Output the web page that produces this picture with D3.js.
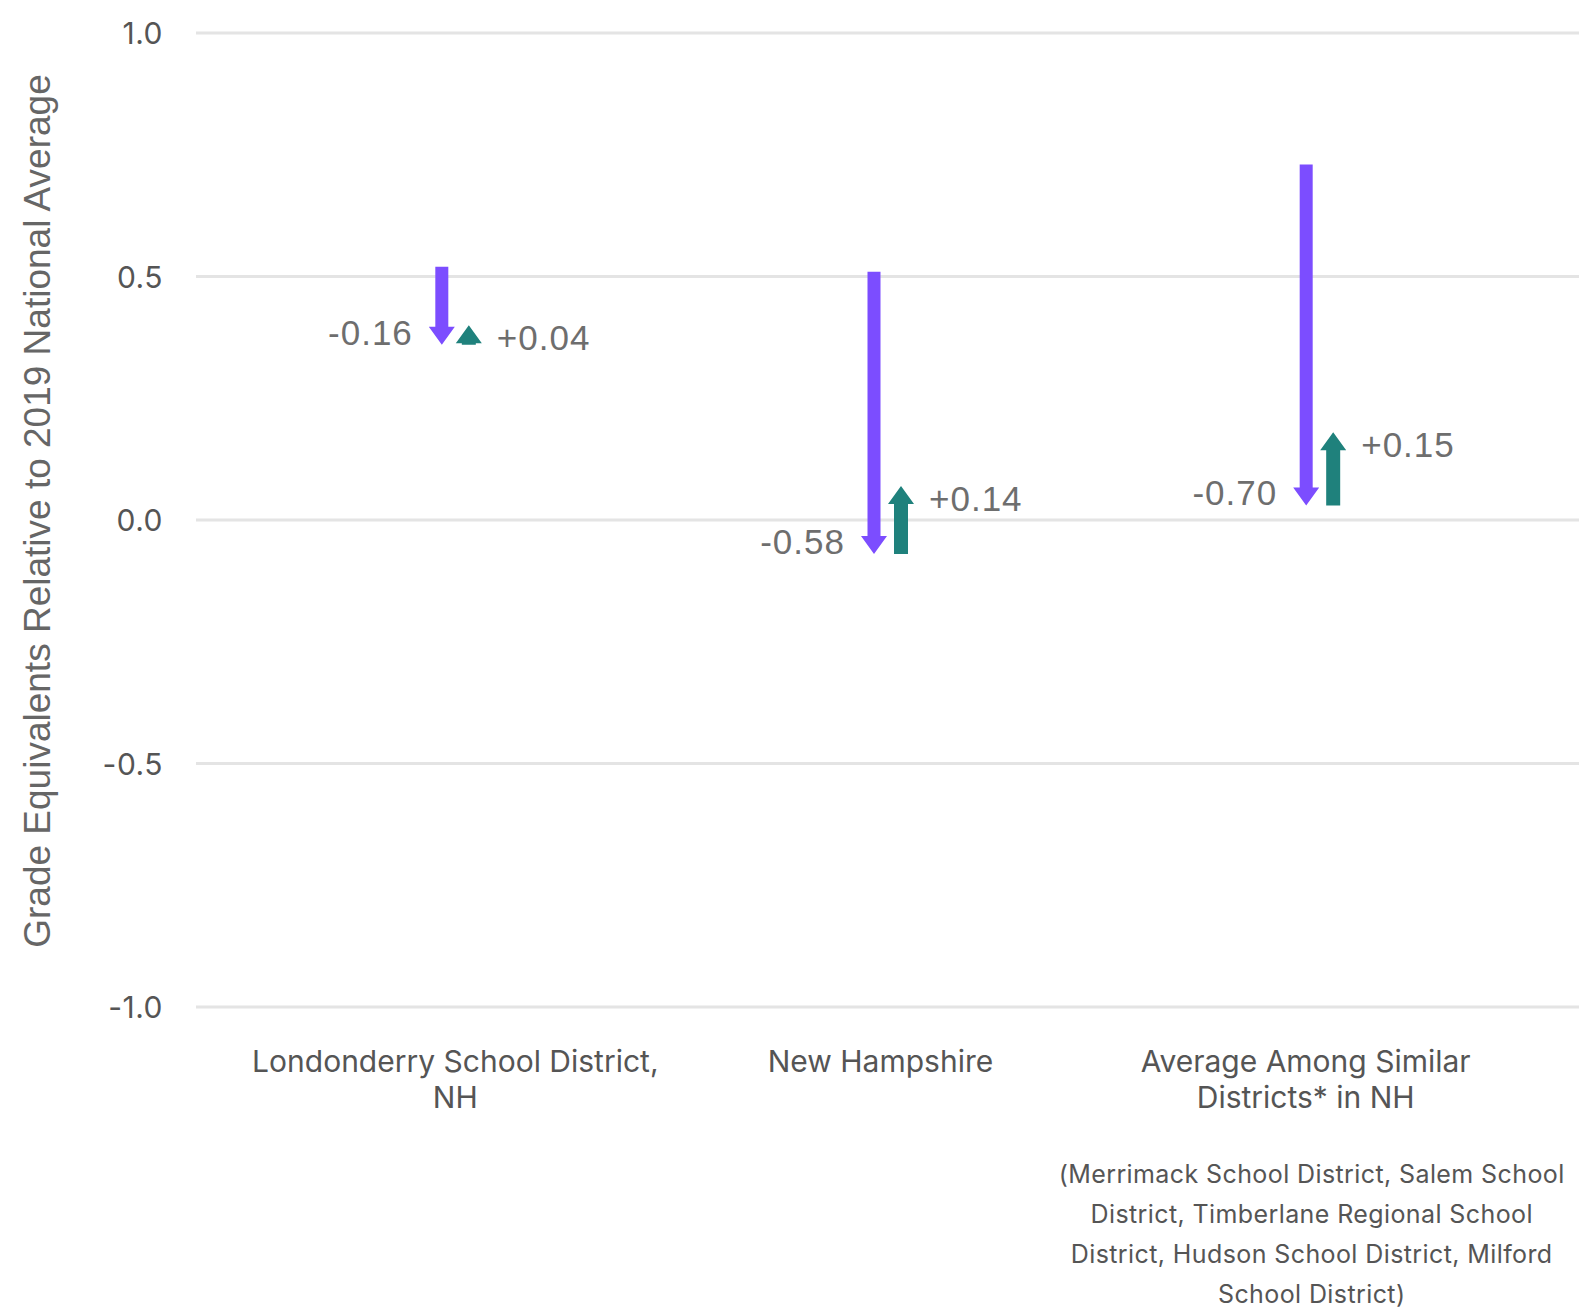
<!DOCTYPE html>
<html>
<head>
<meta charset="utf-8">
<script src="https://cdn.jsdelivr.net/npm/d3@7"></script>
<style>
  html, body { margin: 0; padding: 0; background: #fff; overflow: hidden; }
  svg { display: block; }
</style>
</head>
<body>
<div id="chart"></div>
<script>
// data
var categories = ["Londonderry School District, NH", "New Hampshire", "Average Among Similar Districts* in NH"];
var catLines = [["Londonderry School District,", "NH"], ["New Hampshire"], ["Average Among Similar", "Districts* in NH"]];
var startValues = [0.52, 0.51, 0.73];
var declines = [-0.16, -0.58, -0.70];
var recoveries = [0.04, 0.14, 0.15];
var yTicks = [1.0, 0.5, 0.0, -0.5, -1.0];
var yTickLabels = ["1.0", "0.5", "0.0", "-0.5", "-1.0"];
var footnote = ["(Merrimack School District, Salem School", "District, Timberlane Regional School", "District, Hudson School District, Milford", "School District)"];

var svgWidth = 1586;
var svgHeight = 1312;

var purple = "#7c4dff";
var teal = "#1f817c";

var svg = d3.select("#chart")
  .append("svg")
  .attr("width", svgWidth)
  .attr("height", svgHeight);

var x = d3.scalePoint()
  .domain(categories)
  .range([196, 1579])
  .padding(0.6);

var y = d3.scaleLinear()
  .domain([-1, 1])
  .range([1007, 33]);

// gridlines
svg.append("g")
  .selectAll("line")
  .data(yTicks)
  .enter()
  .append("line")
  .attr("x1", 196)
  .attr("x2", 1579)
  .attr("y1", d => y(d))
  .attr("y2", d => y(d))
  .attr("stroke", "#e4e4e4")
  .attr("stroke-width", 3);

// y axis
var leftAxis = d3.axisLeft(y)
  .tickValues(yTicks)
  .tickFormat((d, i) => yTickLabels[i])
  .tickSize(0)
  .tickPadding(0);

var yAxis = svg.append("g")
  .attr("transform", "translate(163, 0)")
  .call(leftAxis);
yAxis.select(".domain").remove();
yAxis.selectAll("text")
  .attr("font-family", "Inter, 'Noto Sans', sans-serif")
  .attr("font-size", "30px")
  .attr("letter-spacing", "0.5px")
  .attr("fill", "#555")
  .attr("dy", "0.36em");

svg.append("text")
  .attr("transform", "translate(50, 511) rotate(-90)")
  .attr("text-anchor", "middle")
  .attr("font-family", "'Liberation Sans', Arial, sans-serif")
  .attr("font-size", "37px")
  .attr("fill", "#666")
  .text("Grade Equivalents Relative to 2019 National Average");

// arrow shape: vertical arrow from y0 to y1
function arrowPath(cx, y0, y1, shaftW, headW, headL) {
  var dir = y1 > y0 ? 1 : -1;
  var len = Math.abs(y1 - y0);
  var hl = Math.min(headL, len);
  var yb = y1 - dir * hl;
  var p = [];
  if (len > hl) {
    p.push([cx - shaftW / 2, y0], [cx + shaftW / 2, y0], [cx + shaftW / 2, yb]);
  } else {
    p.push([cx, y0], [cx, yb]);
  }
  p.push([cx + headW / 2, yb], [cx, y1], [cx - headW / 2, yb]);
  if (len > hl) p.push([cx - shaftW / 2, yb]);
  return "M" + p.map(d => d.join(",")).join("L") + "Z";
}

var rows = categories.map(function(c, i) {
  return {
    cat: c,
    start: startValues[i],
    low: startValues[i] + declines[i],
    end: startValues[i] + declines[i] + recoveries[i],
    decline: declines[i],
    recovery: recoveries[i]
  };
});

var fmt = d3.format(".2f");
var marks = svg.append("g");

marks.selectAll(".drop")
  .data(rows)
  .enter()
  .append("path")
  .attr("class", "drop")
  .attr("fill", purple)
  .attr("d", d => arrowPath(x(d.cat) - 13.5, y(d.start), y(d.low), 13, 26, 18));

marks.selectAll(".rise")
  .data(rows)
  .enter()
  .append("path")
  .attr("class", "rise")
  .attr("fill", teal)
  .attr("d", d => arrowPath(x(d.cat) + 13.5, y(d.low), y(d.end), 14, 26, 18));

marks.selectAll(".dropLabel")
  .data(rows)
  .enter()
  .append("text")
  .attr("x", d => x(d.cat) - 13.5 - 29)
  .attr("y", d => y(d.low))
  .attr("text-anchor", "end")
  .attr("font-family", "'Liberation Sans', Arial, sans-serif")
  .attr("font-size", "35px")
  .attr("letter-spacing", "1px")
  .attr("fill", "#6e6e6e")
  .text(d => fmt(d.decline).replace("\u2212", "-"));

marks.selectAll(".riseLabel")
  .data(rows)
  .enter()
  .append("text")
  .attr("x", d => x(d.cat) + 13.5 + 28)
  .attr("y", d => y(d.end) + 25)
  .attr("text-anchor", "start")
  .attr("font-family", "'Liberation Sans', Arial, sans-serif")
  .attr("font-size", "35px")
  .attr("letter-spacing", "1px")
  .attr("fill", "#6e6e6e")
  .text(d => "+" + fmt(d.recovery));

// category labels
var catG = svg.append("g")
  .selectAll("text")
  .data(categories)
  .enter()
  .append("text")
  .attr("text-anchor", "middle")
  .attr("font-family", "Inter, 'Noto Sans', sans-serif")
  .attr("font-size", "30px")
  .attr("fill", "#555");

catG.selectAll("tspan")
  .data((d, i) => catLines[i].map(t => ({ t: t, c: d, i: i })))
  .enter()
  .append("tspan")
  .attr("x", d => x(d.c) - d.i * 7)
  .attr("y", (d, j) => 1072 + j * 36)
  .text(d => d.t);

svg.append("g")
  .selectAll("text")
  .data(footnote)
  .enter()
  .append("text")
  .attr("x", x(categories[2]) - 8)
  .attr("y", (d, i) => 1183 + i * 40)
  .attr("text-anchor", "middle")
  .attr("font-family", "Inter, 'Noto Sans', sans-serif")
  .attr("font-size", "25px")
  .attr("letter-spacing", "0.4px")
  .attr("fill", "#555")
  .text(d => d);
</script>
</body>
</html>
